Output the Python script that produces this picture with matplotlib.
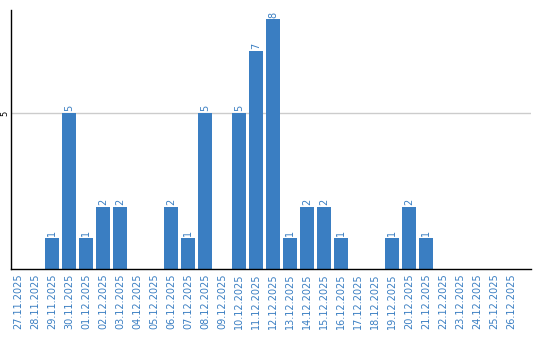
import matplotlib
matplotlib.use("Agg")
import matplotlib.pyplot as plt

dates = ["27.11.2025", "28.11.2025", "29.11.2025", "30.11.2025", "01.12.2025",
         "02.12.2025", "03.12.2025", "04.12.2025", "05.12.2025", "06.12.2025",
         "07.12.2025", "08.12.2025", "09.12.2025", "10.12.2025", "11.12.2025",
         "12.12.2025", "13.12.2025", "14.12.2025", "15.12.2025", "16.12.2025",
         "17.12.2025", "18.12.2025", "19.12.2025", "20.12.2025", "21.12.2025",
         "22.12.2025", "23.12.2025", "24.12.2025", "25.12.2025", "26.12.2025"]
counts = [0, 0, 1, 5, 1, 2, 2, 0, 0, 2, 1, 5, 0, 5, 7, 8, 1, 2, 2, 1,
          0, 0, 1, 2, 1, 0, 0, 0, 0, 0]

bar_color = "#3a7ec2"
text_color = "#3a7ec2"

fig = plt.figure(figsize=(5.4, 3.4), dpi=100)
ax = fig.add_axes([11/540, 1-269/340, 520/540, 259/340])

x = list(range(len(dates)))
ax.bar(x, counts, width=0.82, color=bar_color, zorder=2)
for xi, c in zip(x, counts):
    if c > 0:
        ax.text(xi, c + 0.05, str(c), rotation=90, ha="center", va="bottom",
                fontsize=7, color=text_color)

ax.set_xlim(-0.41, 30.18)
ax.set_ylim(0, 8.3)
ax.set_xticks(x)
ax.set_xticklabels(dates, rotation=90, fontsize=7, color=text_color)
ax.set_yticks([5])
ax.set_yticklabels(["5"], rotation=90, fontsize=6, va="center")
ax.tick_params(axis="x", length=0, pad=3)
ax.tick_params(axis="y", length=0, pad=1)
ax.yaxis.grid(True, color="#cccccc", linewidth=1, zorder=0)
ax.set_axisbelow(True)
for s in ["top", "right"]:
    ax.spines[s].set_visible(False)
ax.spines["left"].set_color("black")
ax.spines["bottom"].set_color("black")
ax.spines["left"].set_linewidth(1)
ax.spines["bottom"].set_linewidth(1)

fig.savefig("out.png", dpi=100)
